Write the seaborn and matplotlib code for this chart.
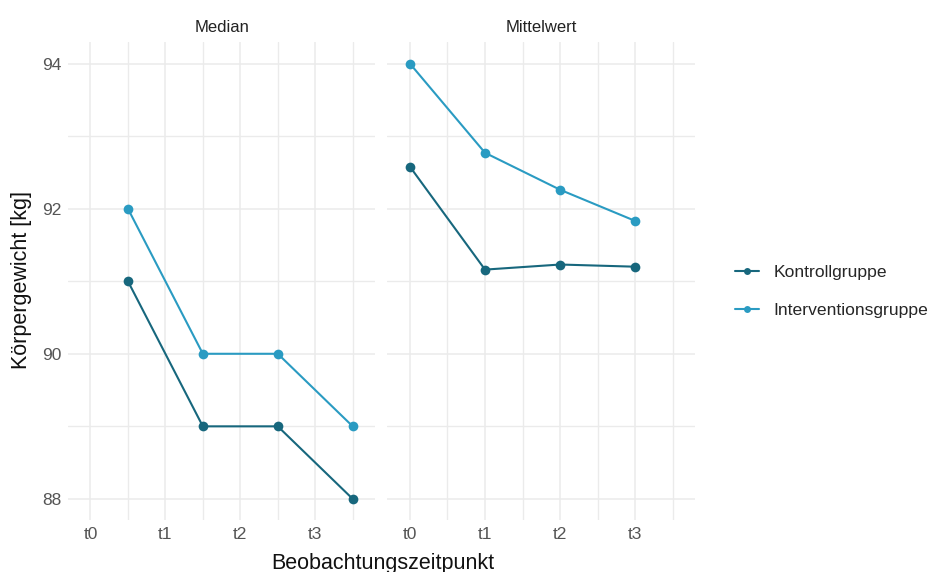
import numpy as np
import pandas as pd
import matplotlib.pyplot as plt
from matplotlib.ticker import FixedLocator
import seaborn as sns

# data
zeitpunkte = ['t0', 't1', 't2', 't3']
gruppen = ['Kontrollgruppe', 'Interventionsgruppe']

median_x = [0.5, 1.5, 2.5, 3.5]          # median points sit between ticks
median_kontroll = [91.0, 89.0, 89.0, 88.0]
median_intervention = [92.0, 90.0, 90.0, 89.0]

mittel_x = [0, 1, 2, 3]
mittel_kontroll = [92.58, 91.16, 91.23, 91.20]
mittel_intervention = [94.0, 92.77, 92.26, 91.83]

farben = {'Kontrollgruppe': '#17677d', 'Interventionsgruppe': '#2a9bc2'}

median_df = pd.DataFrame({
    'x': median_x * 2,
    'wert': median_kontroll + median_intervention,
    'gruppe': [gruppen[0]] * 4 + [gruppen[1]] * 4,
})
mittel_df = pd.DataFrame({
    'x': mittel_x * 2,
    'wert': mittel_kontroll + mittel_intervention,
    'gruppe': [gruppen[0]] * 4 + [gruppen[1]] * 4,
})

sns.set_theme(style='white')
plt.rcParams['font.family'] = ['Liberation Sans', 'DejaVu Sans']

fig = plt.figure(figsize=(9.31, 5.72), dpi=100)
ax1 = fig.add_axes([0.073, 0.091, 0.330, 0.836])
ax2 = fig.add_axes([0.416, 0.091, 0.331, 0.836], sharey=ax1)

for ax, df, titel in [(ax1, median_df, 'Median'), (ax2, mittel_df, 'Mittelwert')]:
    sns.lineplot(data=df, x='x', y='wert', hue='gruppe', hue_order=gruppen,
                 palette=farben, marker='o', markersize=7, markeredgewidth=0,
                 linewidth=1.5, ax=ax, legend=(ax is ax1))
    ax.set_xlim(-0.3, 3.8)
    ax.set_ylim(87.71, 94.3)
    ax.set_xticks(range(4))
    ax.set_xticklabels(zeitpunkte)
    ax.xaxis.set_minor_locator(FixedLocator([0.5, 1.5, 2.5, 3.5]))
    ax.set_yticks([88, 90, 92, 94])
    ax.yaxis.set_minor_locator(FixedLocator([89, 91, 93]))
    ax.grid(which='major', color='#ebebeb', linewidth=1.1)
    ax.grid(which='minor', color='#ebebeb', linewidth=1.0)
    ax.set_axisbelow(True)
    for s in ax.spines.values():
        s.set_visible(False)
    ax.tick_params(axis='both', which='both', length=0, labelsize=12.5,
                   labelcolor='#555555', pad=5)
    ax.set_xlabel('')
    ax.set_ylabel('')
    ax.set_title(titel, fontsize=12, color='#222222', pad=7)

ax2.tick_params(axis='y', labelleft=False)

handles, labels = ax1.get_legend_handles_labels()
for h in handles:
    h.set_markersize(5)
ax1.get_legend().remove()
fig.legend(handles, labels, loc='center left', bbox_to_anchor=(0.7725, 0.491),
           frameon=False, fontsize=12.6, handlelength=1.4, labelspacing=1.3,
           handletextpad=0.8)

fig.text(383 / 931, 1 - 563 / 572, 'Beobachtungszeitpunkt', ha='center',
         va='center', fontsize=15.5, color='#111111')
fig.text(22 / 931, 1 - 280 / 572, 'Körpergewicht [kg]', ha='center',
         va='center', rotation=90, fontsize=15.5, color='#111111')

fig.savefig('out.png', dpi=100)
